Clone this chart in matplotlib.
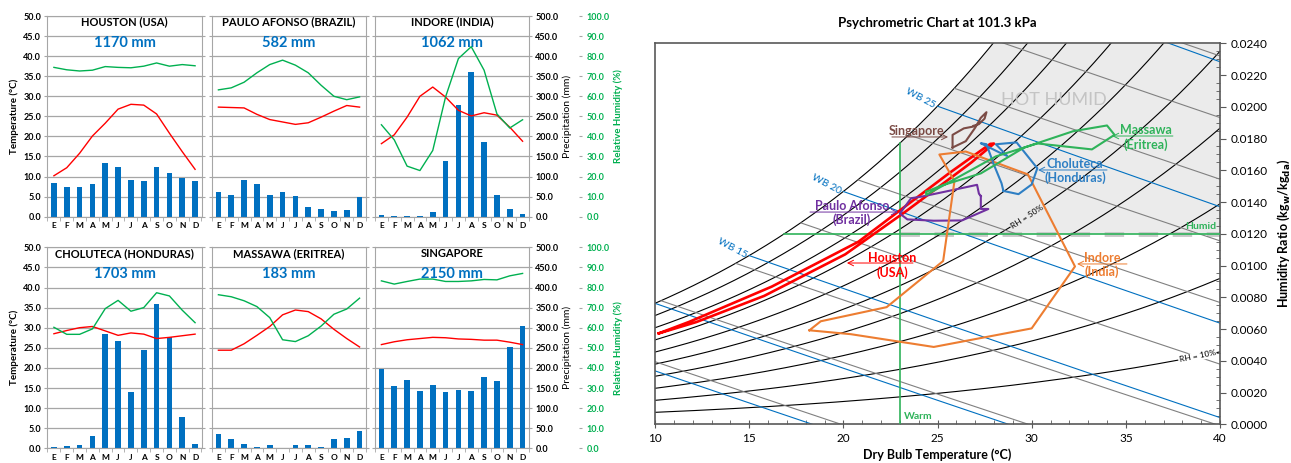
import numpy as np
import matplotlib.pyplot as plt
from matplotlib.ticker import MultipleLocator, FormatStrFormatter

plt.rcParams['font.family'] = ['Lato', 'DejaVu Sans']

months = ['E', 'F', 'M', 'A', 'M', 'J', 'J', 'A', 'S', 'O', 'N', 'D']

# monthly climate data: mean temperature (C), relative humidity (%), rainfall (mm)
houston_temp = [10.2, 12.2, 15.8, 20.1, 23.3, 26.8, 28.0, 27.8, 25.6, 20.8, 16.2, 11.8]
houston_rh = [74.4, 73.2, 72.6, 73.0, 74.8, 74.4, 74.2, 75.0, 76.6, 75.0, 75.8, 75.2]
houston_rain = [83, 75, 73, 81, 133, 125, 91, 89, 124, 108, 96, 88]

paulo_temp = [27.3, 27.2, 27.1, 25.5, 24.2, 23.6, 23.0, 23.4, 24.8, 26.3, 27.7, 27.3]
paulo_rh = [63.2, 64.2, 67.0, 71.7, 75.8, 78.0, 75.5, 71.7, 65.5, 60.0, 58.3, 59.7]
paulo_rain = [62, 55, 92, 82, 55, 61, 52, 25, 18, 15, 17, 48]

indore_temp = [18.2, 20.4, 24.8, 30.0, 32.3, 29.8, 26.5, 25.1, 25.9, 25.3, 22.3, 18.8]
indore_rh = [45.8, 38.3, 25.2, 23.0, 33.0, 59.7, 78.8, 84.7, 73.0, 51.2, 44.2, 48.3]
indore_rain = [4, 2, 1, 2, 11, 138, 278, 361, 185, 53, 20, 7]

choluteca_temp = [28.5, 29.3, 30.0, 30.3, 29.2, 28.1, 28.7, 28.4, 27.3, 27.6, 28.0, 28.4]
choluteca_rh = [60.2, 56.7, 56.7, 59.4, 69.5, 73.6, 68.2, 70.0, 77.4, 75.8, 68.7, 62.5]
choluteca_rain = [2, 5, 7, 31, 285, 268, 139, 244, 358, 277, 77, 10]

massawa_temp = [24.4, 24.4, 26.0, 28.1, 30.3, 33.2, 34.4, 34.0, 32.2, 29.6, 27.3, 25.2]
massawa_rh = [76.4, 75.4, 73.4, 70.5, 65.0, 54.0, 53.1, 56.0, 60.8, 66.7, 69.3, 74.7]
massawa_rain = [35, 22, 10, 4, 7, 0, 7, 7, 2, 22, 25, 42]

singapore_temp = [25.8, 26.5, 27.0, 27.3, 27.6, 27.5, 27.2, 27.1, 26.9, 26.9, 26.4, 25.8]
singapore_rh = [83.3, 81.7, 83.0, 84.2, 84.2, 83.0, 83.0, 83.3, 84.0, 83.8, 85.8, 87.0]
singapore_rain = [198, 154, 171, 142, 158, 139, 145, 143, 177, 167, 252, 304]

titles = ['HOUSTON (USA)', 'PAULO AFONSO (BRAZIL)', 'INDORE (INDIA)',
          'CHOLUTECA (HONDURAS)', 'MASSAWA (ERITREA)', 'SINGAPORE']
totals = ['1170 mm', '582 mm', '1062 mm', '1703 mm', '183 mm', '2150 mm']

RED = '#ff0000'
GREEN = '#00b050'
BLUE = '#0070c0'
GRID = '#a6a6a6'

W, H = 1291, 463
fig = plt.figure(figsize=(W / 100, H / 100), dpi=100)

panels = [
    (houston_temp, houston_rh, houston_rain),
    (paulo_temp, paulo_rh, paulo_rain),
    (indore_temp, indore_rh, indore_rain),
    (choluteca_temp, choluteca_rh, choluteca_rain),
    (massawa_temp, massawa_rh, massawa_rain),
    (singapore_temp, singapore_rh, singapore_rain),
]
col_x = [(47.5, 201.5), (212, 366), (375, 529)]
row_y = [(16, 216.7), (247.3, 448.3)]

for i, (temp, rh, rain) in enumerate(panels):
    r, c = divmod(i, 3)
    x0, x1 = col_x[c]
    y0, y1 = row_y[r]
    axp = fig.add_axes([x0 / W, 1 - y1 / H, (x1 - x0) / W, (y1 - y0) / H])
    axt = axp.twinx()   # temperature, drawn over the bars
    axh = axp.twinx()   # relative humidity
    x = np.arange(12)

    # precipitation bars (right axis)
    axp.bar(x, rain, width=0.45, color=BLUE, zorder=2)
    axp.set_ylim(0, 500)
    axp.set_xlim(-0.5, 11.5)
    axp.yaxis.set_major_locator(MultipleLocator(50))
    axp.yaxis.set_major_formatter(FormatStrFormatter('%.1f'))
    axp.yaxis.grid(True, color=GRID, lw=0.9)
    axp.set_axisbelow(True)
    axp.tick_params(axis='y', left=False, labelleft=False, right=True,
                    labelright=(c == 2), length=2.5, color=GRID,
                    labelsize=6.5, pad=2)
    axp.set_xticks(x)
    axp.set_xticklabels(months, fontsize=6, fontweight='bold')
    axp.set_xticks(np.arange(-0.5, 12, 1), minor=True)
    axp.tick_params(axis='x', which='major', length=0, pad=4)
    axp.tick_params(axis='x', which='minor', length=3, color=GRID)
    for lab in axp.get_yticklabels(which='both'):
        lab.set_fontweight('bold')
    for s in axp.spines.values():
        s.set_color(GRID)
    if c == 2:
        axp.yaxis.set_label_position('right')
        axp.set_ylabel('Precipitation (mm)', fontsize=7.5, labelpad=3)

    # temperature line (left axis)
    axt.plot(x, temp, color=RED, lw=1)
    axt.set_ylim(0, 50)
    axt.yaxis.set_major_locator(MultipleLocator(5))
    axt.yaxis.set_major_formatter(FormatStrFormatter('%.1f'))
    axt.tick_params(axis='y', left=True, labelleft=(c == 0), right=False,
                    labelright=False, length=2.5, color=GRID, labelsize=6.5,
                    pad=2)
    for lab in axt.get_yticklabels(which='both'):
        lab.set_fontweight('bold')
    for s in axt.spines.values():
        s.set_visible(False)
    if c == 0:
        axt.yaxis.set_label_position('left')
        axt.set_ylabel('Temperature (°C)', fontsize=7, fontweight='bold', labelpad=3)

    # relative humidity line (outer right axis)
    axh.plot(x, rh, color=GREEN, lw=1)
    axh.set_ylim(0, 100)
    if c == 2:
        axh.spines['right'].set_position(('outward', 36))
        for s in axh.spines.values():
            s.set_visible(False)
        axh.yaxis.set_major_locator(MultipleLocator(10))
        axh.yaxis.set_major_formatter(FormatStrFormatter('%.1f'))
        axh.tick_params(axis='y', length=2.5, color=GRID, labelsize=6.5,
                        labelcolor=GREEN, pad=3)
        for lab in axh.get_yticklabels():
            lab.set_fontweight('bold')
        axh.set_ylabel('Relative Humidity (%)', fontsize=7, color=GREEN,
                       fontweight='bold', labelpad=3)
    else:
        axh.axis('off')

    axt.text(0.5, 0.97, titles[i], transform=axt.transAxes, ha='center',
             va='center', fontsize=8, fontweight='bold')
    axt.text(0.5, 0.865, totals[i], transform=axt.transAxes, ha='center',
             va='center', fontsize=10.5, fontweight='bold', color=BLUE)


# ---------------- psychrometric chart ----------------
P = 101.3


def p_sat(t):
    return 0.61094 * np.exp(17.625 * t / (t + 243.04))


def w_from_rh(t, rh):
    pv = rh * p_sat(t)
    return 0.622 * pv / (P - pv)


ax = fig.add_axes([655 / W, 1 - 424.3 / H, 565 / W, (424.3 - 43.3) / H])
ax.set_xlim(10, 40)
ax.set_ylim(0, 0.024)

T = np.linspace(10, 40, 1201)
wsat = w_from_rh(T, 1.0)

# hot-humid zone
hot = T >= 23
ax.fill_between(T[hot], 0.012, np.minimum(wsat[hot], 0.024), color='#ebebeb',
                lw=0, zorder=0)
ax.plot([23, 40], [0.012, 0.012], color='#c8c8c8', lw=3.5, ls=(0, (4, 3)), zorder=1)

# relative humidity curves
rh_levels = np.arange(0.1, 1.01, 0.1)
for r in rh_levels:
    ax.plot(T, w_from_rh(T, r), color='black', lw=0.8, zorder=2)

# enthalpy lines
for h in range(20, 110, 10):
    w = (h - 1.006 * T) / (2501 + 1.86 * T)
    w = np.where((w <= wsat) & (w >= 0), w, np.nan)
    ax.plot(T, w, color='#808080', lw=0.8, zorder=2)

# wet-bulb lines
wb_levels = [5, 10, 15, 20, 25, 30]
for tw in wb_levels:
    w = ((2501 - 2.326 * tw) * w_from_rh(tw, 1.0) - 1.006 * (T - tw)) / \
        (2501 + 1.86 * T - 4.186 * tw)
    w = np.where((T >= tw) & (w >= 0), w, np.nan)
    ax.plot(T, w, color=BLUE, lw=0.8, zorder=2)
    if tw in (15, 20, 25):
        ax.annotate(f'WB {tw}', xy=(tw, w_from_rh(tw, 1.0)), xytext=(-12, 5.5),
                    textcoords='offset points', ha='center', va='center',
                    rotation=-28, fontsize=7.5, color=BLUE)

# comfort boundaries
t_edge = T[np.argmin(np.abs(wsat - 0.012))]
ax.plot([t_edge, 40], [0.012, 0.012], color='#2fb35a', lw=1.2, zorder=3)
ax.plot([23, 23], [0, w_from_rh(23, 1.0)], color='#2fb35a', lw=1.2, zorder=3)
ax.text(39.8, 0.01215, 'Humid', color='#2fb35a', fontsize=7.5, fontweight='bold',
        ha='right', va='bottom')
ax.text(23.2, 0.0002, 'Warm', color='#2fb35a', fontsize=7.5, fontweight='bold',
        ha='left', va='bottom')
ax.text(31.2, 0.0204, 'HOT HUMID', color='#c4c4c4', fontsize=13, ha='center',
        va='center')


def rh_label(t, r, txt, bg):
    p1 = ax.transData.transform((t - 0.3, w_from_rh(t - 0.3, r)))
    p2 = ax.transData.transform((t + 0.3, w_from_rh(t + 0.3, r)))
    ang = np.degrees(np.arctan2(p2[1] - p1[1], p2[0] - p1[0]))
    ax.text(t, w_from_rh(t, r), txt, rotation=ang, rotation_mode='anchor',
            ha='center', va='center', fontsize=6, zorder=4,
            bbox=dict(boxstyle='square,pad=0.1', fc=bg, ec='none'))


rh_label(29.75, 0.5, 'RH = 50%', '#ebebeb')
rh_label(38.8, 0.1, 'RH = 10%', 'white')

# city monthly loops
cities = [
    ('Houston\n(USA)', houston_temp, houston_rh, RED, 1.9,
     (22.6, 0.0100), (23.7, 0.01016), (20.19, 0.01016)),
    ('Paulo Afonso\n(Brazil)', paulo_temp, paulo_rh, '#7030a0', 1.5,
     (20.46, 0.01331), (18.23, 0.01337), (22.9, 0.01337)),
    ('Indore\n(India)', indore_temp, indore_rh, '#ed7d31', 1.5,
     (33.74, 0.01003), (35.06, 0.0101), (32.41, 0.0101)),
    ('Choluteca\n(Honduras)', choluteca_temp, choluteca_rh, '#2e7fc4', 1.5,
     (32.3, 0.01596), (34.0, 0.01602), (30.34, 0.01602)),
    ('Massawa\n(Eritrea)', massawa_temp, massawa_rh, '#2fb35a', 1.5,
     (36.07, 0.01807), (37.5, 0.01816), (34.27, 0.01816)),
    ('Singapore', singapore_temp, singapore_rh, '#7b4b45', 1.5,
     (23.91, 0.01848), (22.58, 0.0181), (25.56, 0.0181)),
]
for name, temp, rh, col, lw, txt_pos, line_from, line_to in cities:
    t = np.array(temp + temp[:1])
    w = w_from_rh(t, np.array(rh + rh[:1]) / 100)
    ax.plot(t, w, color=col, lw=lw, zorder=5)
    ax.text(*txt_pos, name, color=col, fontsize=9, fontweight='bold',
            ha='center', va='center', multialignment='center',
            linespacing=1.15, zorder=6)
    ax.annotate('', xy=line_to, xytext=line_from, zorder=6,
                arrowprops=dict(arrowstyle='->', color=col, lw=0.7,
                                shrinkA=0, shrinkB=0))

ax.yaxis.tick_right()
ax.yaxis.set_label_position('right')
ax.xaxis.set_major_locator(MultipleLocator(5))
ax.xaxis.set_minor_locator(MultipleLocator(1))
ax.yaxis.set_major_locator(MultipleLocator(0.002))
ax.yaxis.set_minor_locator(MultipleLocator(0.0005))
ax.yaxis.set_major_formatter(FormatStrFormatter('%.4f'))
ax.tick_params(axis='both', which='major', labelsize=8.5, color='#595959')
ax.tick_params(axis='x', which='major', direction='inout', length=6)
ax.tick_params(axis='x', which='minor', direction='in', length=3, color='#595959')
ax.tick_params(axis='y', which='major', direction='out', length=4)
ax.tick_params(axis='y', which='minor', direction='in', length=3, color='#595959')
for s in ax.spines.values():
    s.set_color('#595959')
    s.set_linewidth(1.2)
ax.set_xlabel('Dry Bulb Temperature (°C)', fontsize=9, fontweight='bold', labelpad=3)
ax.set_ylabel(r'Humidity Ratio (kg$_\mathbf{w}$/kg$_\mathbf{da}$)', fontsize=9,
              fontweight='bold', labelpad=6)
ax.set_title('Psychrometric Chart at 101.3 kPa', fontsize=9.5, fontweight='bold',
             pad=12)

fig.savefig('out.png', dpi=100)
